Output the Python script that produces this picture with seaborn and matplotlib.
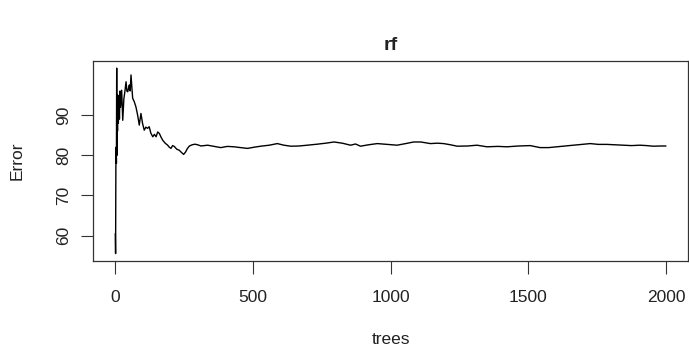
import matplotlib
matplotlib.use("Agg")
import matplotlib.pyplot as plt
import seaborn as sns
import pandas as pd

# Data (randomForest error vs number of trees)
trees = [1, 2, 3, 4, 5, 6, 7, 8, 9, 10, 12, 14, 16, 18, 20, 24, 28, 32, 36, 40,
         43, 46, 50, 52, 55, 58, 61, 64, 70, 76, 82, 88, 94, 100, 106, 112, 118,
         124, 130, 137, 143, 149, 155, 161, 167, 173, 182, 191, 197, 203, 209,
         215, 224, 233, 241, 249, 256, 263, 270, 280, 290, 300, 312, 336, 360,
         384, 408, 432, 456, 481, 505, 529, 560, 589, 613, 638, 668, 698, 734,
         765, 795, 825, 855, 873, 891, 920, 952, 988, 1024, 1055, 1084, 1110,
         1145, 1170, 1193, 1218, 1242, 1280, 1314, 1350, 1390, 1423, 1465, 1507,
         1543, 1574, 1604, 1634, 1664, 1695, 1725, 1755, 1785, 1815, 1845, 1875,
         1906, 1930, 1954, 1980, 2000]
error = [60.5, 55.5, 77.0, 82.0, 78.0, 101.7, 80.0, 90.0, 86.0, 95.0, 88.0, 94.0,
         89.0, 96.0, 92.0, 96.2, 88.7, 94.0, 96.0, 98.3, 96.0, 95.8, 97.0, 97.5,
         96.0, 100.0, 97.0, 94.2, 93.3, 92.0, 90.0, 87.5, 90.4, 87.9, 86.25, 87.0,
         86.7, 87.1, 85.5, 84.6, 85.2, 84.6, 85.8, 85.4, 84.5, 83.75, 83.0, 82.5,
         82.0, 81.7, 82.4, 82.2, 81.5, 81.25, 80.7, 80.2, 80.8, 81.7, 82.3, 82.6,
         82.75, 82.6, 82.3, 82.5, 82.2, 81.9, 82.2, 82.1, 81.9, 81.7, 82.0, 82.25,
         82.5, 82.9, 82.5, 82.25, 82.3, 82.5, 82.75, 83.0, 83.3, 83.0, 82.5, 82.8,
         82.25, 82.6, 82.9, 82.7, 82.5, 82.9, 83.3, 83.3, 82.9, 83.0, 82.9, 82.6,
         82.25, 82.3, 82.5, 82.1, 82.2, 82.1, 82.3, 82.4, 81.9, 81.9, 82.1, 82.3,
         82.5, 82.7, 82.9, 82.7, 82.7, 82.6, 82.5, 82.4, 82.5, 82.4, 82.25, 82.3,
         82.3]
x_ticks = [0, 500, 1000, 1500, 2000]
y_ticks = [60, 70, 80, 90]
title = "rf"
x_label = "trees"
y_label = "Error"

sns.set_style("white")
plt.rcParams["font.family"] = ["Liberation Sans", "DejaVu Sans"]

fig = plt.figure(figsize=(6.89, 3.51), dpi=100)
ax = fig.add_axes([93 / 689, 1 - 261 / 351, 595 / 689, 200.3 / 351])

df = pd.DataFrame({"trees": trees, "Error": error})
sns.lineplot(data=df, x="trees", y="Error", estimator=None, sort=False,
             color="black", linewidth=1.0, ax=ax)

ax.set_xlim(0 - 0.04 * 2000, 2000 + 0.04 * 2000)
lo, hi = min(error), max(error)
ax.set_ylim(lo - 0.04 * (hi - lo), hi + 0.04 * (hi - lo))

txt = "#222222"
ax.set_xticks(x_ticks)
ax.set_xticklabels([str(t) for t in x_ticks], fontsize=12.5, color=txt)
ax.set_yticks(y_ticks)
ax.set_yticklabels([str(t) for t in y_ticks], fontsize=12.5, rotation=90,
                   va="center", color=txt)
ax.tick_params(axis="both", direction="out", length=9, width=0.8, color="#333333",
               bottom=True, left=True, top=False, right=False)
ax.tick_params(axis="x", pad=12)
ax.tick_params(axis="y", pad=7)

for s in ax.spines.values():
    s.set_visible(True)
    s.set_color("#333333")
    s.set_linewidth(0.9)

ax.set_xlabel(x_label, fontsize=12.5, color=txt)
ax.set_ylabel(y_label, fontsize=12.5, color=txt)
ax.xaxis.set_label_coords(0.5, -0.355)
ax.yaxis.set_label_coords(-0.115, 0.5)
ax.set_title(title, fontsize=14, fontweight="bold", pad=8, color=txt)

fig.savefig("out.png", dpi=100)
